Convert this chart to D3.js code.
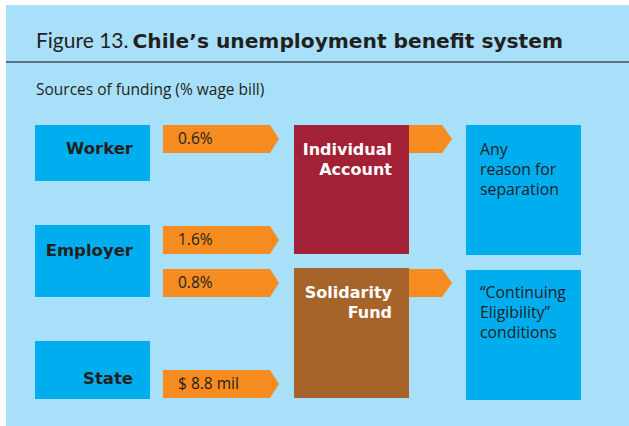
<!DOCTYPE html>
<html>
<head>
<meta charset="utf-8">
<script src="https://cdn.jsdelivr.net/npm/d3@7"></script>
<style>
  body { margin: 0; background: #fff; }
  svg { display: block; }
  text { font-family: "Open Sans", Lato, sans-serif; fill: #231f20; }
  .heavy { font-family: "DejaVu Sans", sans-serif; font-weight: bold; }
</style>
</head>
<body>
<div id="container"></div>
<script>
// figure data
const titleLead = "Figure 13.";
const titleMain = "Chile\u2019s unemployment benefit system";
const subtitle = "Sources of funding (% wage bill)";

const sources = ["Worker", "Employer", "State"];
const contributions = ["0.6%", "1.6%", "0.8%", "$ 8.8 mil"];
const contributionFrom = ["Worker", "Employer", "Employer", "State"];
const funds = ["Individual Account", "Solidarity Fund"];
const fundLines = [["Individual", "Account"], ["Solidarity", "Fund"]];
const conditions = [["Any", "reason for", "separation"], ["\u201cContinuing", "Eligibility\u201d", "conditions"]];

const width = 629, height = 426;
const colors = { bg: "#a8e0f9", box: "#00aeef", arrow: "#f68b1f", fund: ["#a32136", "#a6632a"] };

// layout scales
const col = d3.scaleOrdinal()
  .domain(["source", "contribution", "fund", "link", "condition"])
  .range([35, 163, 294, 409, 466]);
const colW = 115;

const sourceTop = d3.scaleOrdinal().domain(sources).range([125, 225, 341]);
const sourceBottom = d3.scaleOrdinal().domain(sources).range([181, 297, 399]);
const sourceBase = d3.scaleOrdinal().domain(sources).range([154, 256, 384]);

const arrowTop = d3.scaleOrdinal().domain(contributions).range([125, 226, 269, 370]);
const fundTop = d3.scaleOrdinal().domain(funds).range([125, 268]);
const fundBottom = d3.scaleOrdinal().domain(funds).range([254, 398]);
const arrowH = 28;

const svg = d3.select('#container')
  .append('svg')
  .attr('width', width)
  .attr('height', height);

svg.append('rect')
  .attr('x', 6).attr('y', 5)
  .attr('width', width - 6).attr('height', height - 5)
  .attr('fill', colors.bg);

const title = svg.append('text')
  .attr('x', 36).attr('y', 48)
  .style('font-size', '21px');
title.append('tspan').style('font-family', 'Lato').text(titleLead);
title.append('tspan').attr('class', 'heavy').attr('dx', 4).style('font-size', '20.2px').text(titleMain);

svg.append('line')
  .attr('x1', 6).attr('x2', width)
  .attr('y1', 62).attr('y2', 62)
  .attr('stroke', '#3d4c57').attr('stroke-width', 1.6);

svg.append('text')
  .attr('x', 36).attr('y', 95)
  .style('font-size', '15.5px')
  .text(subtitle);

// arrow shape
function arrow(x, y, body, tip) {
  return `M${x},${y}H${x + body}L${x + body + tip},${y + arrowH / 2}L${x + body},${y + arrowH}H${x}Z`;
}

// sources
svg.selectAll('rect.source')
  .data(sources)
  .enter()
  .append('rect')
  .attr('class', 'source')
  .attr('x', col('source'))
  .attr('y', d => sourceTop(d))
  .attr('width', colW)
  .attr('height', d => sourceBottom(d) - sourceTop(d))
  .attr('fill', colors.box);

svg.selectAll('text.source')
  .data(sources)
  .enter()
  .append('text')
  .attr('class', 'source heavy')
  .attr('x', col('source') + 98)
  .attr('y', d => sourceBase(d))
  .attr('text-anchor', 'end')
  .style('font-size', '16.5px')
  .text(d => d);

// contributions
svg.selectAll('path.contrib')
  .data(contributions)
  .enter()
  .append('path')
  .attr('class', 'contrib')
  .attr('d', d => arrow(col('contribution'), arrowTop(d), 107, 9))
  .attr('fill', colors.arrow);

svg.selectAll('text.contrib')
  .data(contributions)
  .enter()
  .append('text')
  .attr('class', 'contrib')
  .attr('x', col('contribution') + 15)
  .attr('y', d => arrowTop(d) + 19)
  .style('font-size', '15.5px')
  .text(d => d);

// funds
svg.selectAll('rect.fund')
  .data(funds)
  .enter()
  .append('rect')
  .attr('class', 'fund')
  .attr('x', col('fund'))
  .attr('y', d => fundTop(d))
  .attr('width', colW)
  .attr('height', d => fundBottom(d) - fundTop(d))
  .attr('fill', (d, i) => colors.fund[i]);

svg.selectAll('path.link')
  .data(funds)
  .enter()
  .append('path')
  .attr('class', 'link')
  .attr('d', d => arrow(col('link'), fundTop(d) + (d === funds[0] ? 0 : 1), 33, 10))
  .attr('fill', colors.arrow);

svg.selectAll('text.fund')
  .data(funds)
  .enter()
  .append('text')
  .attr('class', 'fund heavy')
  .attr('text-anchor', 'end')
  .attr('y', d => fundTop(d) + 30)
  .style('font-size', '16px')
  .style('fill', '#fff')
  .selectAll('tspan')
  .data((d, i) => fundLines[i])
  .enter()
  .append('tspan')
  .attr('x', col('fund') + 98)
  .attr('dy', (d, i) => i ? 20 : 0)
  .text(d => d);

// conditions
svg.selectAll('rect.cond')
  .data(funds)
  .enter()
  .append('rect')
  .attr('class', 'cond')
  .attr('x', col('condition'))
  .attr('y', (d, i) => fundTop(d) + i * 2)
  .attr('width', colW)
  .attr('height', (d, i) => fundBottom(d) - fundTop(d) + 1 - i)
  .attr('fill', colors.box);

svg.selectAll('text.cond')
  .data(funds)
  .enter()
  .append('text')
  .attr('class', 'cond')
  .attr('y', d => fundTop(d) + 30)
  .style('font-size', '15.8px')
  .selectAll('tspan')
  .data((d, i) => conditions[i])
  .enter()
  .append('tspan')
  .attr('x', col('condition') + 14)
  .attr('dy', (d, i) => i ? 20 : 0)
  .text(d => d);
</script>
</body>
</html>
